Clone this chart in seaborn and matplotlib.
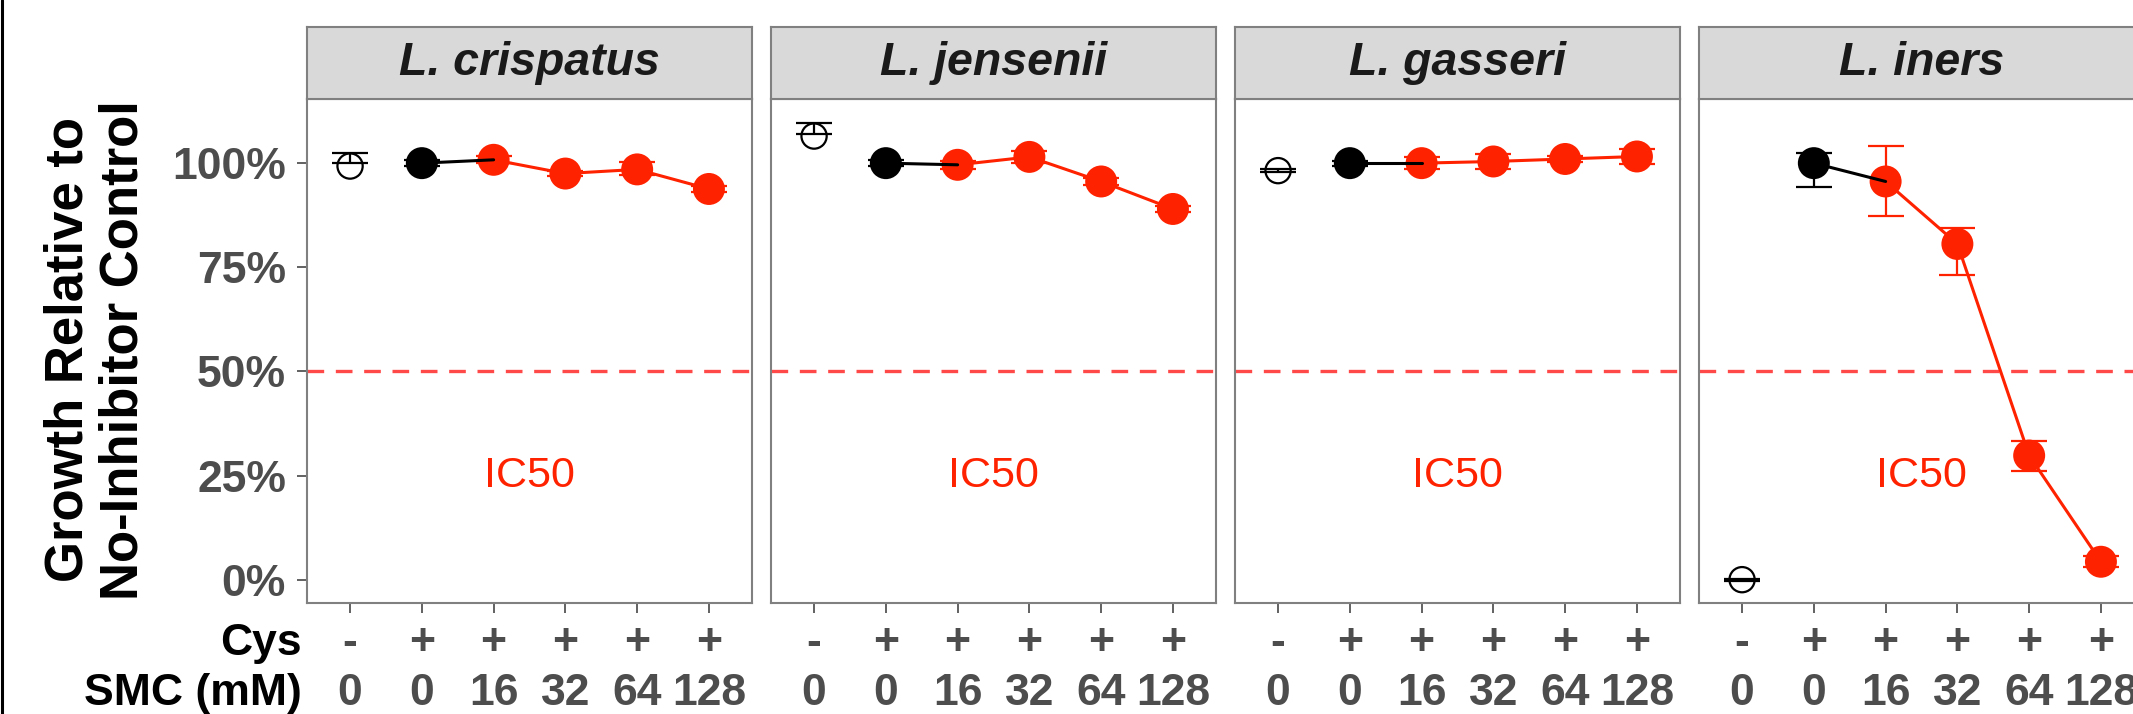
import pandas as pd
import seaborn as sns
import matplotlib.pyplot as plt
from matplotlib.lines import Line2D
from matplotlib.ticker import FuncFormatter

# Conditions along the x axis of each panel
cys = ["-", "+", "+", "+", "+", "+"]
smc = ["0", "0", "16", "32", "64", "128"]
species = ["L. crispatus", "L. jensenii", "L. gasseri", "L. iners"]

# Growth relative to no-inhibitor control (%), with error bar ends
crispatus = [99.3, 100.0, 100.8, 97.5, 98.5, 93.8]
crispatus_lo = [100.0, 99.3, 100.0, 96.8, 97.2, 93.0]
crispatus_hi = [102.4, 100.7, 101.6, 98.2, 100.2, 94.6]

jensenii = [106.5, 100.0, 99.6, 101.5, 95.6, 89.0]
jensenii_lo = [107.0, 99.3, 98.6, 100.0, 94.8, 88.3]
jensenii_hi = [109.7, 100.7, 100.6, 103.0, 96.4, 89.7]

gasseri = [98.2, 100.0, 100.0, 100.4, 101.0, 101.6]
gasseri_lo = [97.9, 99.4, 98.5, 98.5, 100.3, 99.8]
gasseri_hi = [98.5, 100.6, 101.5, 102.3, 101.7, 103.4]

iners = [0.0, 100.0, 95.6, 80.6, 29.8, 4.3]
iners_lo = [-0.2, 94.2, 87.4, 73.2, 26.2, 3.0]
iners_hi = [0.2, 102.4, 104.0, 84.4, 33.2, 5.6]

rows = []
for sp, g, lo, hi in zip(species,
                         [crispatus, jensenii, gasseri, iners],
                         [crispatus_lo, jensenii_lo, gasseri_lo, iners_lo],
                         [crispatus_hi, jensenii_hi, gasseri_hi, iners_hi]):
    for i in range(len(smc)):
        rows.append({"species": sp, "idx": i, "growth": g[i], "lo": lo[i], "hi": hi[i]})
df = pd.DataFrame(rows)

RED = "#FF2200"
GREY_TXT = "#4D4D4D"
BORDER = "#808080"

sns.set_theme(style="white")
plt.rcParams["font.family"] = ["Liberation Sans", "DejaVu Sans"]

W, H = 2133, 714
fig = plt.figure(figsize=(W / 100, H / 100), dpi=100)

lefts = [307, 771, 1235, 1699]
pw = 445
top, bottom, strip_top = 99, 603, 27


def draw_err(ax, d, color):
    # error bar from lo to hi with caps 0.5 units wide
    x = d["idx"].to_numpy()
    ax.vlines(x, d["lo"], d["hi"], color=color, lw=1.6)
    ax.hlines(d["lo"], x - 0.25, x + 0.25, color=color, lw=1.6)
    ax.hlines(d["hi"], x - 0.25, x + 0.25, color=color, lw=1.6)


for k, sp in enumerate(species):
    left = lefts[k]
    ax = fig.add_axes([left / W, 1 - bottom / H, pw / W, (bottom - top) / H])
    strip = fig.add_axes([left / W, 1 - top / H, pw / W, (top - strip_top) / H])

    d = df[df["species"] == sp]
    red = d[d["idx"] >= 2]
    blk = d[d["idx"].isin([1, 2])]
    one = d[d["idx"] == 1]
    ctl = d[d["idx"] == 0]

    ax.axhline(50, color="#FF3535", lw=2.4, ls=(0, (5, 3.5)), alpha=0.9)

    sns.lineplot(data=red, x="idx", y="growth", color=RED, lw=2.2, ax=ax, legend=False)
    draw_err(ax, red, RED)
    sns.scatterplot(data=red, x="idx", y="growth", color=RED, s=530, edgecolor="none", ax=ax, legend=False)

    sns.lineplot(data=blk, x="idx", y="growth", color="black", lw=2.2, ax=ax, legend=False)
    draw_err(ax, one, "black")
    sns.scatterplot(data=one, x="idx", y="growth", color="black", s=530, edgecolor="none", ax=ax, legend=False)

    draw_err(ax, ctl, "black")
    ax.scatter(ctl["idx"], ctl["growth"], s=330, facecolors="none", edgecolors="black", linewidths=1.6)

    ax.text(2.5, 25, "IC50", color=RED, fontsize=31, ha="center", va="center")

    ax.set_xlim(-0.6, 5.6)
    ax.set_ylim(-5.6, 115.4)
    ax.set_xlabel("")
    ax.set_ylabel("")
    ax.set_xticks(range(len(smc)))
    ax.set_xticklabels([])
    ax.set_yticks([0, 25, 50, 75, 100])
    ax.yaxis.set_major_formatter(FuncFormatter(lambda v, p: f"{v:.0f}%"))
    ax.tick_params(axis="both", length=7.2, width=1.3, color="#555555", bottom=True, left=(k == 0),
                   labelsize=32, labelcolor=GREY_TXT, pad=8)
    if k > 0:
        ax.set_yticklabels([])
    for lab in ax.get_yticklabels():
        lab.set_fontweight("bold")
    for s in ax.spines.values():
        s.set_color(BORDER)
        s.set_linewidth(1.5)

    for i in range(len(smc)):
        ax.annotate(cys[i], xy=(i, 0), xycoords=("data", "axes fraction"), xytext=(0, -29),
                    textcoords="offset points", ha="center", va="center", fontsize=32,
                    fontweight="bold", color=GREY_TXT, annotation_clip=False)
        ax.annotate(smc[i], xy=(i, 0), xycoords=("data", "axes fraction"), xytext=(0, -65),
                    textcoords="offset points", ha="center", va="center", fontsize=32,
                    fontweight="bold", color=GREY_TXT, annotation_clip=False)
    if k == 0:
        ax.annotate("Cys", xy=(0, 0), xycoords="axes fraction", xytext=(-4, -29),
                    textcoords="offset points", ha="right", va="center", fontsize=32,
                    fontweight="bold", color="black", annotation_clip=False)
        ax.annotate("SMC (mM)", xy=(0, 0), xycoords="axes fraction", xytext=(-4, -65),
                    textcoords="offset points", ha="right", va="center", fontsize=32,
                    fontweight="bold", color="black", annotation_clip=False)

    strip.set_facecolor("#D9D9D9")
    strip.set_xticks([])
    strip.set_yticks([])
    for s in strip.spines.values():
        s.set_color(BORDER)
        s.set_linewidth(1.5)
    strip.text(0.5, 0.5, sp, transform=strip.transAxes, ha="center", va="center",
               fontsize=33.5, fontweight="bold", fontstyle="italic", color="#1A1A1A")

fig.text(96 / W, 1 - 350 / H, "Growth Relative to\nNo-Inhibitor Control", rotation=90,
         ha="center", va="center", fontsize=38, fontweight="bold", color="black",
         linespacing=1.15, multialignment="center")

fig.add_artist(Line2D([1.5 / W, 1.5 / W], [0, 1], transform=fig.transFigure, color="black", lw=2.2))

fig.savefig("out.png", dpi=100)
